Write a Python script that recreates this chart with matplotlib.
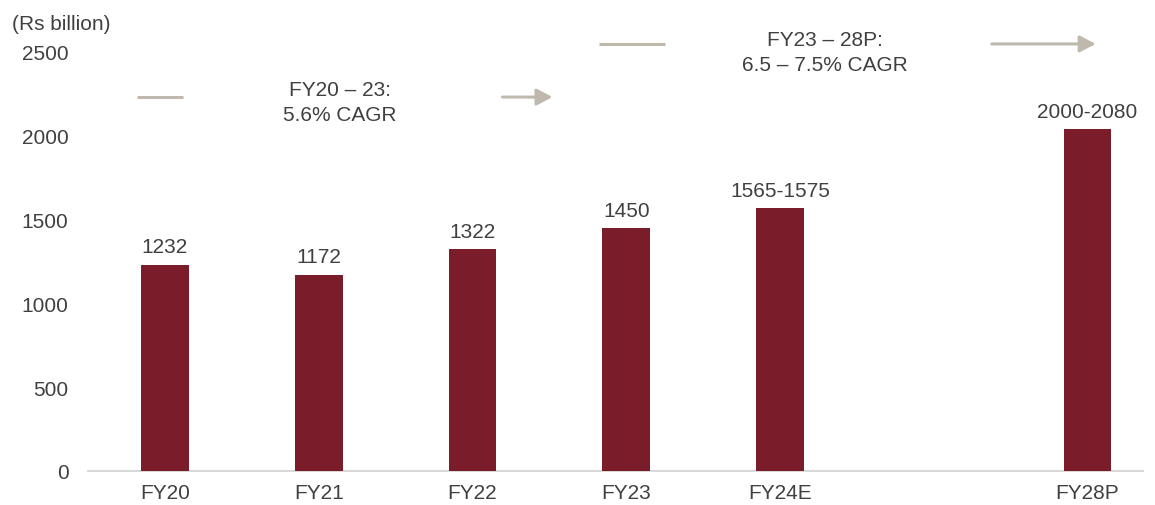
import matplotlib
matplotlib.use('Agg')
import matplotlib.pyplot as plt

# Market size, Rs billion
years = ["FY20", "FY21", "FY22", "FY23", "FY24E", "FY28P"]
positions = [0, 1, 2, 3, 4, 6]
values = [1232, 1172, 1322, 1450, 1570, 2040]
value_labels = ["1232", "1172", "1322", "1450", "1565-1575", "2000-2080"]

bar_color = "#7B1C2A"
text_color = "#404040"
arrow_color = "#BFB8AD"
fs = 15

plt.rcParams['font.family'] = ['Liberation Sans', 'DejaVu Sans']

fig = plt.figure(figsize=(11.55, 5.06), dpi=100)
ax = fig.add_axes([0.0762, 0.0672, 0.9134, 0.8281])

bars = ax.bar(positions, values, width=0.31, color=bar_color, zorder=3)
for b, lbl in zip(bars, value_labels):
    ax.annotate(lbl, (b.get_x() + b.get_width() / 2, b.get_height()),
                xytext=(0, 6), textcoords="offset points",
                ha="center", va="bottom", fontsize=fs, color=text_color)

ax.set_xlim(-0.5, 6.36)
ax.set_ylim(0, 2500)
ax.set_yticks(range(0, 2501, 500))
ax.set_xticks(positions)
ax.set_xticklabels(years)
ax.tick_params(axis="both", length=0, labelsize=fs, colors=text_color)
ax.tick_params(axis="y", pad=14)
ax.tick_params(axis="x", pad=9)
for side in ("left", "right", "top"):
    ax.spines[side].set_visible(False)
ax.spines["bottom"].set_color("#D9D9D9")
ax.spines["bottom"].set_linewidth(1.5)

fig.text(0.0104, 0.952, "(Rs billion)", fontsize=fs, color=text_color,
         ha="left", va="center")


def cagr_bracket(x0, x1, x2, x3, y, text, tx, ty):
    # plain segment on the left, arrow on the right, caption in between
    ax.plot([x0, x1], [y, y], color=arrow_color, lw=2.2, clip_on=False,
            solid_capstyle="butt")
    ax.annotate("", xy=(x3, y), xytext=(x2, y),
                arrowprops=dict(arrowstyle="-|>,head_length=0.95,head_width=0.5",
                                color=arrow_color, lw=2.2, shrinkA=0, shrinkB=0),
                annotation_clip=False)
    ax.text(tx, ty, text, ha="center", va="center", fontsize=fs,
            color=text_color, linespacing=1.4, clip_on=False)


cagr_bracket(-0.18, 0.117, 2.195, 2.52, 2231,
             "FY20 \u2013 23:\n5.6% CAGR", 1.136, 2202)
cagr_bracket(2.825, 3.253, 5.377, 6.052, 2548,
             "FY23 \u2013 28P:\n6.5 \u2013 7.5% CAGR", 4.29, 2500)

fig.savefig("out.png", dpi=100)
